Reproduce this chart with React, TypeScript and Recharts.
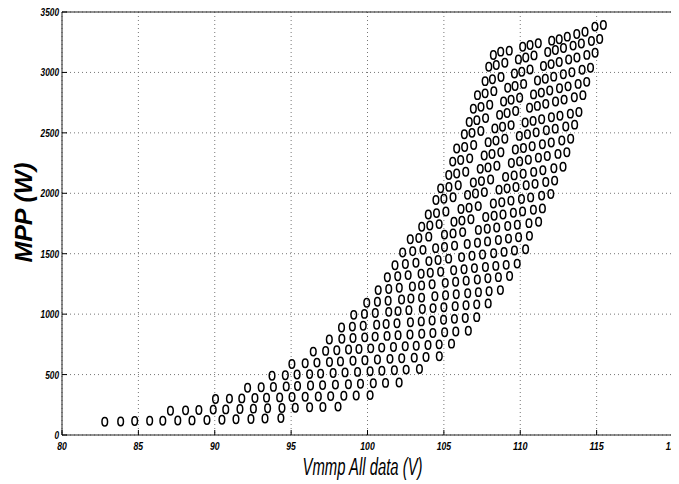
import React from 'react';
import { ScatterChart, Scatter, XAxis, YAxis, CartesianGrid } from 'recharts';

// one row per irradiance level, 13 temperature points each
const vmppRows: number[][] = [
  [82.8, 83.84, 84.76, 85.74, 86.6, 87.58, 88.51, 89.49, 90.47, 91.39, 92.37, 93.29, 94.33],
  [87.1, 88.09, 88.96, 89.9, 90.72, 91.65, 92.53, 93.46, 94.4, 95.27, 96.21, 97.08, 98.07],
  [90.05, 90.96, 91.77, 92.63, 93.39, 94.25, 95.06, 95.92, 96.78, 97.59, 98.45, 99.26, 100.17],
  [92.15, 93.04, 93.84, 94.68, 95.42, 96.27, 97.06, 97.9, 98.75, 99.54, 100.38, 101.18, 102.07],
  [93.75, 94.62, 95.39, 96.21, 96.93, 97.75, 98.53, 99.35, 100.17, 100.94, 101.76, 102.53, 103.4],
  [95.05, 95.92, 96.69, 97.51, 98.23, 99.05, 99.83, 100.65, 101.47, 102.24, 103.06, 103.83, 104.7],
  [96.45, 97.26, 97.99, 98.76, 99.44, 100.21, 100.93, 101.7, 102.47, 103.19, 103.96, 104.69, 105.5],
  [97.5, 98.32, 99.05, 99.82, 100.5, 101.28, 102.0, 102.78, 103.55, 104.28, 105.05, 105.78, 106.6],
  [98.3, 99.01, 99.72, 100.6, 101.22, 101.93, 102.81, 103.52, 104.23, 104.98, 105.69, 106.4, 107.15],
  [99.1, 99.8, 100.51, 101.39, 102.0, 102.71, 103.59, 104.29, 105.0, 105.74, 106.45, 107.15, 107.9],
  [99.95, 100.65, 101.35, 102.23, 102.84, 103.54, 104.41, 105.11, 105.81, 106.56, 107.26, 107.96, 108.7],
  [100.7, 101.39, 102.08, 102.94, 103.54, 104.23, 105.09, 105.77, 106.46, 107.19, 107.88, 108.57, 109.3],
  [101.3, 101.98, 102.66, 103.51, 104.11, 104.79, 105.64, 106.32, 107.0, 107.72, 108.4, 109.08, 109.8],
  [101.8, 102.48, 103.17, 104.02, 104.62, 105.31, 106.16, 106.84, 107.53, 108.26, 108.94, 109.62, 110.35],
  [102.3, 102.96, 103.63, 104.46, 105.04, 105.7, 106.53, 107.2, 107.86, 108.57, 109.23, 109.89, 110.6],
  [102.8, 103.36, 104.01, 105.04, 105.6, 106.23, 107.26, 107.84, 108.46, 109.18, 109.81, 110.57, 111.2],
  [103.55, 104.08, 104.69, 105.66, 106.18, 106.77, 107.74, 108.29, 108.87, 109.55, 110.15, 110.86, 111.45],
  [103.98, 104.52, 105.13, 106.12, 106.65, 107.25, 108.24, 108.79, 109.39, 110.08, 110.68, 111.4, 112.0],
  [104.48, 105.0, 105.6, 106.55, 107.07, 107.65, 108.61, 109.14, 109.72, 110.39, 110.97, 111.67, 112.25],
  [104.79, 105.33, 105.94, 106.93, 107.46, 108.06, 109.04, 109.6, 110.19, 110.88, 111.48, 112.2, 112.8],
  [105.32, 105.84, 106.43, 107.38, 107.89, 108.47, 109.42, 109.96, 110.53, 111.19, 111.77, 112.47, 113.05],
  [105.58, 106.1, 106.69, 107.64, 108.15, 108.73, 109.68, 110.21, 110.78, 111.45, 112.03, 112.72, 113.3],
  [105.84, 106.36, 106.95, 107.9, 108.41, 108.99, 109.94, 110.47, 111.04, 111.71, 112.29, 112.98, 113.56],
  [106.34, 106.84, 107.42, 108.34, 108.84, 109.4, 110.32, 110.84, 111.4, 112.04, 112.6, 113.28, 113.84],
  [106.66, 107.16, 107.73, 108.65, 109.14, 109.7, 110.61, 111.12, 111.67, 112.31, 112.87, 113.54, 114.1],
  [106.93, 107.43, 108.0, 108.91, 109.4, 109.96, 110.87, 111.38, 111.93, 112.57, 113.13, 113.79, 114.35],
  [107.2, 107.7, 108.27, 109.18, 109.66, 110.22, 111.13, 111.64, 112.19, 112.82, 113.38, 114.05, 114.6],
  [107.7, 108.18, 108.74, 109.62, 110.1, 110.64, 111.52, 112.02, 112.55, 113.17, 113.71, 114.36, 114.9],
  [107.94, 108.43, 108.99, 109.88, 110.36, 110.9, 111.8, 112.3, 112.83, 113.46, 114.0, 114.66, 115.2],
  [108.24, 108.72, 109.28, 110.16, 110.64, 111.18, 112.06, 112.55, 113.08, 113.7, 114.24, 114.89, 115.44],
];

const mppRows: number[][] = [
  [110, 112, 116, 118, 118, 120, 121, 124, 126, 130, 133, 136, 140],
  [201, 204, 207, 210, 212, 215, 218, 221, 224, 226, 229, 232, 235],
  [298, 301, 303, 306, 309, 311, 314, 317, 319, 322, 325, 327, 330],
  [391, 395, 398, 402, 406, 409, 413, 417, 420, 424, 428, 431, 435],
  [490, 495, 500, 504, 508, 513, 518, 522, 527, 532, 536, 541, 546],
  [588, 594, 599, 604, 609, 614, 619, 625, 630, 635, 640, 645, 651],
  [690, 696, 701, 707, 712, 717, 723, 728, 734, 739, 745, 750, 756],
  [790, 796, 802, 808, 814, 820, 826, 832, 838, 844, 850, 856, 862],
  [890, 897, 904, 912, 918, 925, 933, 940, 947, 954, 961, 968, 975],
  [994, 1002, 1009, 1019, 1025, 1033, 1042, 1050, 1058, 1066, 1073, 1081, 1089],
  [1094, 1102, 1111, 1121, 1129, 1137, 1148, 1156, 1164, 1173, 1182, 1190, 1199],
  [1199, 1208, 1218, 1229, 1238, 1247, 1259, 1268, 1277, 1287, 1297, 1306, 1316],
  [1305, 1314, 1323, 1334, 1342, 1351, 1363, 1372, 1381, 1390, 1399, 1408, 1418],
  [1404, 1415, 1425, 1439, 1448, 1459, 1472, 1483, 1493, 1504, 1515, 1526, 1537],
  [1510, 1521, 1532, 1546, 1556, 1567, 1580, 1591, 1602, 1614, 1625, 1636, 1648],
  [1620, 1630, 1641, 1658, 1668, 1679, 1697, 1706, 1717, 1729, 1740, 1753, 1764],
  [1723, 1733, 1745, 1764, 1774, 1785, 1804, 1814, 1825, 1839, 1850, 1864, 1875],
  [1825, 1836, 1849, 1870, 1881, 1894, 1915, 1926, 1939, 1953, 1966, 1981, 1994],
  [1944, 1955, 1967, 1987, 1998, 2010, 2030, 2041, 2052, 2066, 2078, 2093, 2105],
  [2041, 2053, 2067, 2089, 2101, 2114, 2136, 2148, 2162, 2177, 2190, 2207, 2220],
  [2151, 2164, 2178, 2202, 2214, 2228, 2251, 2264, 2278, 2295, 2309, 2326, 2340],
  [2262, 2275, 2289, 2313, 2325, 2339, 2362, 2375, 2389, 2406, 2420, 2437, 2451],
  [2370, 2383, 2399, 2423, 2436, 2451, 2475, 2489, 2504, 2521, 2535, 2553, 2568],
  [2488, 2500, 2515, 2537, 2550, 2564, 2586, 2599, 2613, 2629, 2642, 2659, 2673],
  [2590, 2605, 2622, 2649, 2664, 2681, 2708, 2723, 2740, 2759, 2775, 2795, 2812],
  [2700, 2715, 2732, 2759, 2774, 2791, 2818, 2833, 2850, 2869, 2885, 2905, 2922],
  [2812, 2827, 2845, 2873, 2888, 2905, 2933, 2948, 2965, 2985, 3002, 3022, 3039],
  [2928, 2944, 2962, 2991, 3006, 3024, 3053, 3069, 3086, 3107, 3124, 3145, 3163],
  [3047, 3062, 3080, 3108, 3124, 3141, 3169, 3185, 3202, 3222, 3239, 3260, 3277],
  [3144, 3172, 3180, 3213, 3227, 3241, 3263, 3274, 3296, 3318, 3337, 3379, 3393],
];

const xTicks = [80, 85, 90, 95, 100, 105, 110, 115, 120];
const yTicks = [0, 500, 1000, 1500, 2000, 2500, 3000, 3500];

const points = mppRows.flatMap((row, i) => row.map((p, j) => ({ v: vmppRows[i][j], p })));

const tickFont: React.CSSProperties = {
  fontFamily: "'Liberation Sans', Arial, sans-serif",
  fontStyle: 'italic',
  fontWeight: 'bold',
  fontSize: 11,
  fill: '#000',
};

const BottomTick = (props: any) => {
  const { x, y, payload } = props;
  const s = String(payload.value);
  return (
    <g>
      <line x1={x} x2={x} y1={y} y2={y - 5} stroke="#000" />
      <text x={x} y={y + 15} textAnchor="middle" style={tickFont} textLength={s.length * 4.8} lengthAdjust="spacingAndGlyphs">{s}</text>
    </g>
  );
};

const LeftTick = (props: any) => {
  const { x, y, payload } = props;
  const s = String(payload.value);
  return (
    <g>
      <line x1={x} x2={x + 5} y1={y} y2={y} stroke="#000" />
      <text x={x - 3} y={y + 4} textAnchor="end" style={tickFont} textLength={s.length * 4.6} lengthAdjust="spacingAndGlyphs">{s}</text>
    </g>
  );
};

const TopTick = (props: any) => {
  const { x, y } = props;
  return <line x1={x} x2={x} y1={y} y2={y + 5} stroke="#000" />;
};

const RightTick = (props: any) => {
  const { x, y } = props;
  return <line x1={x} x2={x - 5} y1={y} y2={y} stroke="#000" />;
};

const XTitle = (props: any) => {
  const { x, y, width } = props.viewBox;
  return (
    <text
      x={x + width / 2 - 5}
      y={y + 40}
      textAnchor="middle"
      textLength={120}
      lengthAdjust="spacingAndGlyphs"
      style={{ fontFamily: "'Liberation Sans', Arial, sans-serif", fontStyle: 'italic', fontSize: 23, fill: '#000' }}
    >
      Vmmp All data (V)
    </text>
  );
};

const YTitle = (props: any) => {
  const { y, height } = props.viewBox;
  const cx = 24;
  const cy = y + height / 2 - 11;
  return (
    <text
      x={cx}
      y={cy}
      transform={`rotate(-90, ${cx}, ${cy})`}
      textAnchor="middle"
      textLength={100}
      lengthAdjust="spacingAndGlyphs"
      style={{ fontFamily: "'Liberation Sans', Arial, sans-serif", fontStyle: 'italic', fontWeight: 'bold', fontSize: 23, fill: '#000' }}
    >
      MPP (W)
    </text>
  );
};

const Ring = (props: any) => (
  <ellipse cx={props.cx} cy={props.cy} rx={2.8} ry={4.2} fill="none" stroke="#000" strokeWidth={1.5} />
);

const App: React.FC = () => {
  return (
    <div style={{ width: 671, height: 476, overflow: 'hidden' }}>
      <ScatterChart width={671} height={476} margin={{ top: 0, right: 0, bottom: 0, left: 0 }}>
        <CartesianGrid stroke="#777" strokeDasharray="1 3" />
        <XAxis
          type="number"
          dataKey="v"
          domain={[80, 120]}
          ticks={xTicks}
          interval={0}
          height={49}
          tickSize={0}
          tickMargin={0}
          tickLine={false}
          tick={<BottomTick />}
          axisLine={{ stroke: '#222' }}
          label={<XTitle />}
        />
        <XAxis
          xAxisId="top"
          orientation="top"
          type="number"
          domain={[80, 120]}
          ticks={xTicks}
          interval={0}
          height={4}
          tickSize={0}
          tickMargin={0}
          tickLine={false}
          tick={<TopTick />}
          axisLine={{ stroke: '#222' }}
        />
        <YAxis
          type="number"
          dataKey="p"
          domain={[0, 3500]}
          ticks={yTicks}
          interval={0}
          width={54}
          tickSize={0}
          tickMargin={0}
          tickLine={false}
          tick={<LeftTick />}
          axisLine={{ stroke: '#222' }}
          label={<YTitle />}
        />
        <YAxis
          yAxisId="right"
          orientation="right"
          type="number"
          domain={[0, 3500]}
          ticks={yTicks}
          interval={0}
          width={6}
          tickSize={0}
          tickMargin={0}
          tickLine={false}
          tick={<RightTick />}
          axisLine={{ stroke: '#222' }}
        />
        <Scatter data={points} shape={<Ring />} isAnimationActive={false} />
      </ScatterChart>
    </div>
  );
};

export default App;
